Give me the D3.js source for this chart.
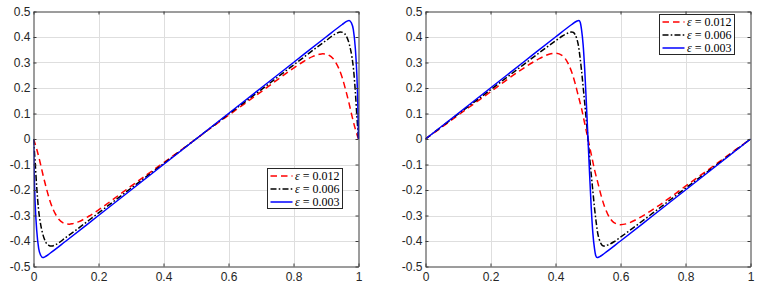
<!DOCTYPE html>
<html><head><meta charset="utf-8">
<script src="https://cdn.jsdelivr.net/npm/d3@7"></script>
<style>body{margin:0;background:#fff;overflow:hidden}</style></head>
<body><svg id="c" width="764" height="288"></svg>
<script>
// ---- data ----
const xTicks = [0, 0.2, 0.4, 0.6, 0.8, 1];
const xTickLabels = ["0", "0.2", "0.4", "0.6", "0.8", "1"];
const yTicks = [-0.5, -0.4, -0.3, -0.2, -0.1, 0, 0.1, 0.2, 0.3, 0.4, 0.5];
const yTickLabels = ["-0.5", "-0.4", "-0.3", "-0.2", "-0.1", "0", "0.1", "0.2", "0.3", "0.4", "0.5"];
const seriesEps = ["0.012", "0.006", "0.003"];

// left panel
const leftRed = [[0,0],[0.01,-0.04],[0.02,-0.09],[0.03,-0.145],[0.04,-0.195],[0.05,-0.24],[0.06,-0.275],[0.07,-0.3],[0.08,-0.318],[0.09,-0.328],[0.1,-0.333],[0.11,-0.334],[0.12,-0.332],[0.14,-0.324],[0.17,-0.303],[0.2,-0.278],[0.25,-0.232],[0.3,-0.185],[0.35,-0.139],[0.4,-0.093],[0.45,-0.047],[0.5,0],[0.55,0.047],[0.6,0.093],[0.65,0.139],[0.7,0.185],[0.75,0.232],[0.8,0.278],[0.83,0.303],[0.86,0.324],[0.88,0.332],[0.89,0.334],[0.9,0.333],[0.91,0.328],[0.92,0.318],[0.93,0.3],[0.94,0.275],[0.95,0.24],[0.96,0.195],[0.97,0.145],[0.98,0.09],[0.99,0.04],[1,0]];
const leftBlack = [[0,0],[0.005,-0.09],[0.01,-0.19],[0.015,-0.27],[0.02,-0.32],[0.028,-0.37],[0.038,-0.405],[0.047,-0.417],[0.055,-0.42],[0.07,-0.413],[0.1,-0.386],[0.2,-0.29],[0.3,-0.193],[0.4,-0.097],[0.5,0],[0.6,0.097],[0.7,0.193],[0.8,0.29],[0.9,0.386],[0.93,0.413],[0.945,0.42],[0.953,0.417],[0.962,0.405],[0.972,0.37],[0.98,0.32],[0.985,0.27],[0.99,0.19],[0.995,0.09],[1,0]];
const leftBlue = [[0,0],[0.002,-0.13],[0.005,-0.25],[0.01,-0.36],[0.016,-0.43],[0.022,-0.456],[0.029,-0.465],[0.035,-0.462],[0.05,-0.449],[0.1,-0.4],[0.2,-0.3],[0.3,-0.2],[0.4,-0.1],[0.5,0],[0.6,0.1],[0.7,0.2],[0.8,0.3],[0.9,0.4],[0.95,0.449],[0.965,0.462],[0.971,0.465],[0.978,0.456],[0.984,0.43],[0.99,0.36],[0.995,0.25],[0.998,0.13],[1,0]];

// right panel
const rightRed = [[0,0],[0.05,0.046],[0.1,0.093],[0.15,0.139],[0.2,0.185],[0.25,0.232],[0.3,0.276],[0.35,0.315],[0.38,0.332],[0.4,0.336],[0.42,0.328],[0.43,0.315],[0.44,0.293],[0.45,0.262],[0.46,0.22],[0.47,0.17],[0.48,0.12],[0.49,0.06],[0.5,0],[0.51,-0.06],[0.52,-0.12],[0.53,-0.17],[0.54,-0.22],[0.55,-0.262],[0.56,-0.293],[0.57,-0.315],[0.58,-0.328],[0.6,-0.336],[0.62,-0.332],[0.65,-0.315],[0.7,-0.276],[0.75,-0.232],[0.8,-0.185],[0.85,-0.139],[0.9,-0.093],[0.95,-0.046],[1,0]];
const rightBlack = [[0,0],[0.1,0.097],[0.2,0.193],[0.3,0.29],[0.4,0.385],[0.42,0.403],[0.44,0.416],[0.45,0.42],[0.455,0.418],[0.46,0.41],[0.465,0.395],[0.47,0.37],[0.475,0.325],[0.48,0.27],[0.485,0.205],[0.49,0.14],[0.495,0.07],[0.5,0],[0.505,-0.07],[0.51,-0.14],[0.515,-0.205],[0.52,-0.27],[0.525,-0.325],[0.53,-0.37],[0.535,-0.395],[0.54,-0.41],[0.545,-0.418],[0.55,-0.42],[0.56,-0.416],[0.58,-0.403],[0.6,-0.385],[0.7,-0.29],[0.8,-0.193],[0.9,-0.097],[1,0]];
const rightBlue = [[0,0],[0.1,0.1],[0.2,0.2],[0.3,0.3],[0.4,0.4],[0.45,0.449],[0.465,0.462],[0.472,0.465],[0.476,0.458],[0.48,0.43],[0.485,0.37],[0.49,0.27],[0.495,0.14],[0.5,0],[0.505,-0.14],[0.51,-0.27],[0.515,-0.37],[0.52,-0.43],[0.524,-0.458],[0.528,-0.465],[0.535,-0.462],[0.55,-0.449],[0.6,-0.4],[0.7,-0.3],[0.8,-0.2],[0.9,-0.1],[1,0]];

const seriesColors = ["#ff0000", "#000000", "#0000ff"];
const seriesDash = ["6.5,4", "6,2.2,1.6,2.2", null];

// ---- drawing ----
const svg = d3.select("#c");
const panels = [
  {x0: 33.5, x1: 358.5, data: [leftRed, leftBlack, leftBlue], legend: {x: 267.5, y: 168.5}},
  {x0: 425.5, x1: 750.5, data: [rightRed, rightBlack, rightBlue], legend: {x: 659.5, y: 14.5}}
];
const yTop = 11.5, yBot = 266.5;
const tickFont = "'Liberation Sans', Arial, Helvetica, sans-serif";

panels.forEach((p, pi) => {
  const x = d3.scaleLinear().domain([0, 1]).range([p.x0, p.x1]);
  const y = d3.scaleLinear().domain([-0.5, 0.5]).range([yBot, yTop]);
  const g = svg.append("g");

  // grid
  g.append("g").selectAll("line").data(xTicks.slice(1, -1)).join("line")
    .attr("x1", d => Math.round(x(d)) + 0.5).attr("x2", d => Math.round(x(d)) + 0.5)
    .attr("y1", yTop).attr("y2", yBot).attr("stroke", "#dedede").attr("stroke-width", 1);
  g.append("g").selectAll("line").data(yTicks.slice(1, -1)).join("line")
    .attr("y1", d => Math.round(y(d)) + 0.5).attr("y2", d => Math.round(y(d)) + 0.5)
    .attr("x1", p.x0).attr("x2", p.x1).attr("stroke", "#dedede").attr("stroke-width", 1);

  // clip
  const cid = "clip" + pi;
  svg.append("clipPath").attr("id", cid).append("rect")
    .attr("x", p.x0).attr("y", yTop - 1).attr("width", p.x1 - p.x0 + 1).attr("height", yBot - yTop + 2);

  // lines
  const line = d3.line().x(d => x(d[0])).y(d => y(d[1])).curve(d3.curveMonotoneX);
  const lg = g.append("g").attr("clip-path", `url(#${cid})`);
  p.data.forEach((s, i) => {
    lg.append("path").datum(s).attr("d", line)
      .attr("fill", "none").attr("stroke", seriesColors[i]).attr("stroke-width", 1.5)
      .attr("stroke-linejoin", "round")
      .attr("stroke-dasharray", seriesDash[i]);
  });

  // axes
  const axColor = "#3a3a3a";
  const bottom = g.append("g").attr("transform", `translate(0,${yBot})`)
    .call(d3.axisBottom(x).tickValues(xTicks).tickFormat((d, i) => xTickLabels[i]).tickSizeInner(-3).tickSizeOuter(0).tickPadding(5));
  const left = g.append("g").attr("transform", `translate(${p.x0},0)`)
    .call(d3.axisLeft(y).tickValues(yTicks).tickFormat((d, i) => yTickLabels[i]).tickSizeInner(-3).tickSizeOuter(0).tickPadding(3));
  const top = g.append("g").attr("transform", `translate(0,${yTop})`)
    .call(d3.axisTop(x).tickValues(xTicks).tickFormat("").tickSizeInner(-3).tickSizeOuter(0));
  const right = g.append("g").attr("transform", `translate(${p.x1},0)`)
    .call(d3.axisRight(y).tickValues(yTicks).tickFormat("").tickSizeInner(-3).tickSizeOuter(0));
  [bottom, left, top, right].forEach(a => {
    a.attr("font-size", null);
    a.select(".domain").attr("stroke", axColor);
    a.selectAll(".tick line").attr("stroke", axColor);
    a.selectAll(".tick text").attr("fill", "#262626").attr("font-family", tickFont).attr("font-size", 12);
  });
  bottom.selectAll(".tick text").attr("dy", "0.75em");

  // legend
  const L = p.legend, W = 75, H = 40;
  const lgd = g.append("g").attr("transform", `translate(${L.x},${L.y})`);
  lgd.append("rect").attr("width", W).attr("height", H).attr("fill", "#fff").attr("stroke", "#262626").attr("stroke-width", 1);
  seriesEps.forEach((e, i) => {
    const ry = 7.5 + i * 13;
    lgd.append("line").attr("x1", 3).attr("x2", 25).attr("y1", ry).attr("y2", ry)
      .attr("stroke", seriesColors[i]).attr("stroke-width", 1.5).attr("stroke-dasharray", seriesDash[i]);
    const t = lgd.append("text").attr("x", 27.5).attr("y", ry).attr("dy", "0.35em")
      .attr("font-family", "'Liberation Serif', 'DejaVu Serif', serif").attr("font-size", 12).attr("fill", "#000");
    t.append("tspan").attr("font-style", "italic").text("ε");
    t.append("tspan").text(" = " + e);
  });
});
</script>
</body></html>
